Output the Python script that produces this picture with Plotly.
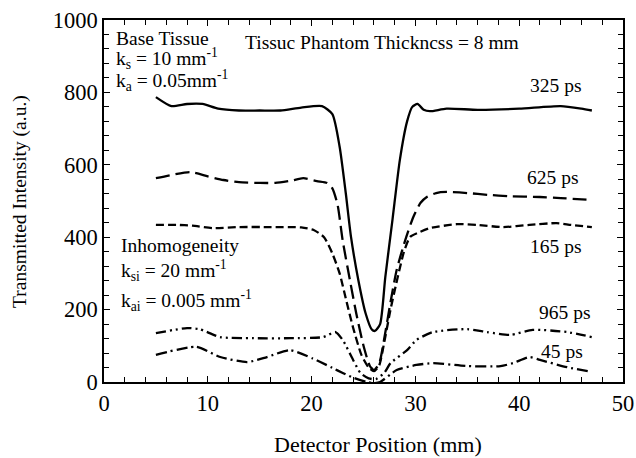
import plotly.graph_objects as go

# ---- data ----
x_325 = [5, 6.5, 8, 9.5, 11, 13, 15, 17, 19, 21, 22, 22.7, 23.3, 23.8, 24.5, 25.2, 25.8, 26.1, 26.6, 27.1, 27.8, 28.5, 29.2, 29.7, 30.2, 30.8, 31.4, 33, 36, 40, 44, 46, 47]
y_325 = [787, 762, 768, 768, 755, 750, 750, 750, 758, 762, 740, 650, 520, 400, 282, 190, 145, 141, 160, 290, 450, 613, 720, 760, 768, 752, 748, 755, 752, 755, 762, 755, 750]

x_625 = [5, 6.5, 8.3, 10, 11.5, 13, 15, 16.5, 18, 19.2, 20.5, 21.5, 22, 22.5, 23, 23.7, 24.3, 25, 25.6, 26, 26.5, 27, 27.6, 28.2, 29, 29.8, 30.5, 31.1, 32, 33, 35, 37, 39, 42, 44, 47]
y_625 = [563, 572, 580, 568, 558, 552, 550, 550, 556, 563, 555, 550, 535, 490, 390, 280, 190, 100, 45, 33, 50, 120, 220, 310, 390, 456, 495, 511, 522, 525, 522, 517, 513, 511, 508, 503]

x_165 = [5, 7, 8.5, 10.5, 13, 16, 19, 20.2, 21.2, 22, 22.7, 23.3, 24, 24.8, 25.5, 26, 26.5, 27, 27.6, 28.3, 28.9, 29.5, 30.4, 31.4, 34, 36, 38.4, 41, 43.6, 45, 47]
y_165 = [434, 434, 432, 425, 428, 428, 427, 420, 400, 355, 300, 230, 150, 75, 40, 30, 45, 110, 200, 290, 360, 401, 414, 425, 436, 434, 428, 434, 439, 434, 428]

x_965 = [5, 8, 9.2, 11.2, 14.4, 18, 21.1, 22.3, 23, 24, 24.7, 25.5, 26.2, 27, 27.6, 29.2, 30.1, 31.7, 35, 36.9, 39.1, 41.3, 44.6, 47]
y_965 = [135, 149, 146, 124, 121, 121, 124, 138, 116, 61, 25, 10, 8, 25, 52, 88, 116, 138, 146, 138, 130, 144, 138, 124]

x_45 = [5, 8.9, 11.2, 13.8, 15.7, 17.9, 20.1, 22, 23, 24, 25.3, 26, 26.6, 28.2, 30.1, 31.7, 35, 38.2, 39.4, 41, 42, 44.6, 47]
y_45 = [75, 97, 69, 55, 69, 88, 65, 39, 25, 12, 0, -3, 0, 33, 47, 52, 44, 44, 52, 69, 61, 41, 28]

series_names = ["325 ps", "625 ps", "165 ps", "965 ps", "45 ps"]

x_tick_vals = [0, 10, 20, 30, 40, 50]
y_tick_vals = [0, 200, 400, 600, 800, 1000]

x_title = "Detector Position (mm)"
y_title = "Transmitted Intensity (a.u.)"

FONT = "Liberation Serif"

fig = go.Figure()
dashes = ["solid", "14px,6px", "8px,4px", "10px,4px,2px,4px,2px,4px", "11px,4px,2px,4px"]
xs = [x_325, x_625, x_165, x_965, x_45]
ys = [y_325, y_625, y_165, y_965, y_45]
for name, x, y, d in zip(series_names, xs, ys, dashes):
    fig.add_trace(go.Scatter(x=x, y=y, mode="lines", name=name,
                             line=dict(color="black", width=2.3, dash=d, shape="spline", smoothing=0.6)))

# curve labels
label_pos = [(46.1, 818), (45.9, 566), (46.1, 373), (47.0, 191), (46.3, 83)]
for name, (lx, ly) in zip(series_names, label_pos):
    fig.add_annotation(x=lx, y=ly, text=name, showarrow=False, xanchor="right", yanchor="middle",
                       font=dict(family=FONT, size=19.5, color="black"))

texts = [
    (0.96, 950, "Base Tissue"),
    (0.96, 893, "k<sub>s</sub> = 10 mm<sup>-1</sup>"),
    (0.96, 832, "k<sub>a</sub> = 0.05mm<sup>-1</sup>"),
    (13.4, 939, "Tissuc Phantom Thickncss = 8 mm"),
    (1.45, 378, "Inhomogeneity"),
    (1.45, 307, "k<sub>si</sub> = 20 mm<sup>-1</sup>"),
    (1.45, 225, "k<sub>ai</sub> = 0.005 mm<sup>-1</sup>"),
]
for tx, ty, t in texts:
    fig.add_annotation(x=tx, y=ty, text=t, showarrow=False, xanchor="left", yanchor="middle",
                       font=dict(family=FONT, size=19.5, color="black"))

# axis titles
fig.add_annotation(xref="paper", yref="paper", x=0.528, y=-0.174, text=x_title, showarrow=False,
                   xanchor="center", yanchor="middle", font=dict(family=FONT, size=22, color="black"))
fig.add_annotation(xref="paper", yref="paper", x=-0.162, y=0.5, text=y_title, showarrow=False,
                   textangle=-90, xanchor="center", yanchor="middle",
                   font=dict(family=FONT, size=19.5, color="black"))

axis_common = dict(showline=True, linecolor="black", linewidth=1.5, mirror="allticks",
                   ticks="inside", ticklen=6, tickwidth=1, tickcolor="black",
                   showgrid=False, zeroline=False, automargin=False,
                   tickfont=dict(family=FONT, size=22.5, color="black"))

fig.update_xaxes(range=[0, 50], tickvals=x_tick_vals,
                 minor=dict(dtick=2, tick0=0, ticks="inside", ticklen=5, tickcolor="black", showgrid=False),
                 **axis_common)
fig.update_yaxes(range=[0, 1000], tickvals=y_tick_vals,
                 minor=dict(dtick=40, tick0=0, ticks="inside", ticklen=5, tickcolor="black", showgrid=False),
                 **axis_common)

fig.update_layout(width=636, height=458, margin=dict(l=104, r=13, t=20, b=76),
                  plot_bgcolor="white", paper_bgcolor="white", showlegend=False)

fig.write_html("out.html", config={"displayModeBar": False},
               post_script="document.body.style.margin='0';")
